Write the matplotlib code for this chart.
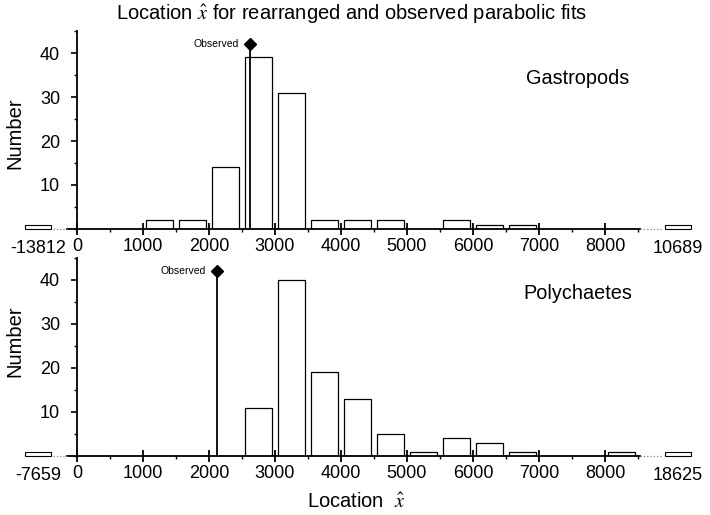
import numpy as np
import matplotlib
matplotlib.use('Agg')
import matplotlib.pyplot as plt
from matplotlib.ticker import MultipleLocator

plt.rcParams['font.family'] = ['Liberation Sans', 'DejaVu Sans']
plt.rcParams['mathtext.fontset'] = 'stix'

# histogram bins (left edge of each 500-wide bin)
bin_starts = np.arange(0, 8500, 500)
gastropod_counts = [0, 0, 2, 2, 14, 39, 31, 2, 2, 2, 0, 2, 1, 1, 0, 0, 0]
polychaete_counts = [0, 0, 0, 0, 0, 11, 40, 19, 13, 5, 1, 4, 3, 1, 0, 0, 1]

# single far-away values shown on broken ends of the axis
gastropod_outliers = [-13812, 10689]
polychaete_outliers = [-7659, 18625]
outlier_count = 1

# observed location from the parabolic fit
gastropod_observed = 2620
polychaete_observed = 2120
observed_height = 42

W, H = 710, 515
fig = plt.figure(figsize=(W / 100, H / 100), dpi=100)


def px_axes(x0, x1, ybase, height):
    return fig.add_axes([x0 / W, 1 - ybase / H, (x1 - x0) / W, height / H])


def outlier_axes(x0, x1, ybase, value, xlim):
    ax = px_axes(x0, x1, ybase, 198)
    ax.bar([value], [outlier_count], width=400, color='white', edgecolor='black',
           linewidth=0.8, clip_on=False)
    ax.set_xlim(value + xlim[0], value + xlim[1])
    ax.set_ylim(0, 45)
    for s in ax.spines.values():
        s.set_visible(False)
    ax.set_yticks([])
    ax.set_xticks([value])
    ax.set_xticklabels([str(value)])
    ax.tick_params(axis='x', length=0, pad=8, labelsize=13)
    ax.patch.set_alpha(0)
    return ax


def draw_panel(ybase, counts, outliers, observed, name, name_xy):
    ax = px_axes(67, 640, ybase, 198)
    ax.bar(bin_starts + 250, counts, width=400, color='white', edgecolor='black', linewidth=0.9)
    ax.plot([observed, observed], [0, observed_height], color='black', linewidth=1.3)
    ax.plot([observed], [observed_height], 'D', color='black', markersize=6)
    ax.text(observed - 170, observed_height, 'Observed', ha='right', va='center', fontsize=7.5)
    ax.text(name_xy[0], name_xy[1], name, ha='left', va='center', fontsize=14.3)

    ax.set_xlim(-150, 8530)
    ax.set_ylim(0, 45)
    ax.spines['top'].set_visible(False)
    ax.spines['right'].set_visible(False)
    ax.spines['left'].set_position(('data', 0))
    ax.spines['left'].set_linewidth(1.3)
    ax.spines['bottom'].set_linewidth(1.3)
    ax.patch.set_alpha(0)

    ax.set_xticks(np.arange(0, 8001, 1000))
    ax.xaxis.set_minor_locator(MultipleLocator(500))
    ax.set_yticks([10, 20, 30, 40])
    ax.yaxis.set_minor_locator(MultipleLocator(5))
    ax.tick_params(axis='x', which='major', direction='inout', length=9, width=1.3, pad=2, labelsize=13)
    ax.tick_params(axis='x', which='minor', direction='out', length=2.5, width=1)
    ax.tick_params(axis='y', which='major', direction='out', length=4, width=1.2, pad=8, labelsize=13)
    ax.tick_params(axis='y', which='minor', direction='out', length=2, width=1)

    lo = outlier_axes(18, 67, ybase, outliers[0], (-303, 440))
    lo.plot([outliers[0] + 230, outliers[0] + 440], [0, 0], ':', color='gray',
            linewidth=0.9, clip_on=False)
    hi = outlier_axes(640, 700, ybase, outliers[1], (-576, 333))
    hi.plot([outliers[1] - 576, outliers[1] - 230], [0, 0], ':', color='gray',
            linewidth=0.9, clip_on=False)
    return ax


top = draw_panel(229, gastropod_counts, gastropod_outliers, gastropod_observed,
                 'Gastropods', (6800, 34.3))
bottom = draw_panel(456, polychaete_counts, polychaete_outliers, polychaete_observed,
                    'Polychaetes', (6770, 36.9))

fig.text(15 / W, 1 - 133 / H, 'Number', rotation=90, ha='center', va='center', fontsize=14.5)
fig.text(15 / W, 1 - 341 / H, 'Number', rotation=90, ha='center', va='center', fontsize=14.5)
fig.text(0.495, 1 - 14 / H, r'Location $\hat{x}$ for rearranged and observed parabolic fits',
         ha='center', va='center', fontsize=14.5)
fig.text(356 / W, 1 - 502 / H, r'Location  $\hat{x}$', ha='center', va='center', fontsize=14.5)

fig.savefig('out.png', dpi=100)
